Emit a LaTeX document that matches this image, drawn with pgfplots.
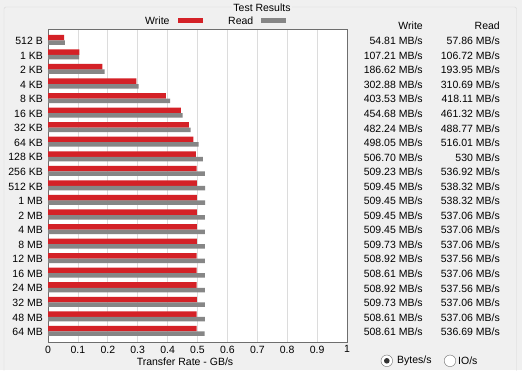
\documentclass[border=0pt]{standalone}
\usepackage{pgfplots}
\pgfplotsset{compat=1.18}
\usepackage{pgfplotstable}
\usepackage{fontspec}
\setmainfont{Liberation Sans}
\definecolor{bg}{HTML}{F0F0F0}
\definecolor{wred}{HTML}{D42127}
\definecolor{rgray}{HTML}{868686}
\definecolor{gridc}{HTML}{DCDCDC}
\definecolor{framec}{HTML}{D6D6D6}
\definecolor{axc}{HTML}{6E6E6E}

\pgfplotstableread[col sep=comma]{
idx,label,w,r
0,512 B,54.81,57.86
1,1 KB,107.21,106.72
2,2 KB,186.62,193.95
3,4 KB,302.88,310.69
4,8 KB,403.53,418.11
5,16 KB,454.68,461.32
6,32 KB,482.24,488.77
7,64 KB,498.05,516.01
8,128 KB,506.70,530
9,256 KB,509.23,536.92
10,512 KB,509.45,538.32
11,1 MB,509.45,538.32
12,2 MB,509.45,537.06
13,4 MB,509.45,537.06
14,8 MB,509.73,537.06
15,12 MB,508.92,537.56
16,16 MB,508.61,537.06
17,24 MB,508.92,537.56
18,32 MB,509.73,537.06
19,48 MB,508.61,537.06
20,64 MB,508.61,536.69
}\data

\begin{document}
\fontsize{10.5}{12.6}\selectfont
\begin{tikzpicture}
\useasboundingbox (0,0) rectangle (522pt,-370pt);
\fill[bg] (0,0) rectangle (522pt,-370pt);
\begin{scope}[x=1pt,y=-1pt]
\draw[framec, rounded corners=2pt] (4,7) rectangle (516.5,385);
\node[fill=bg, inner sep=1.5pt] at (262,7.5) {Test Results};
\node[anchor=west, inner sep=0pt] at (145,20.5) {Write};
\fill[wred] (178,18.2) rectangle (203,23.2);
\node[anchor=west, inner sep=0pt] at (228,20.5) {Read};
\fill[rgray] (261,18.2) rectangle (286,23.2);
\node[anchor=east, inner sep=0pt] at (423,26) {Write};
\node[anchor=east, inner sep=0pt] at (500,26) {Read};
\node at (185,362) {Transfer Rate - GB/s};
\draw[axc, fill=white] (386.8,360.8) circle (5.8);
\fill[black!80] (386.8,360.8) circle (2.8);
\node[anchor=west, inner sep=0pt] at (397,360.8) {Bytes/s};
\draw[axc, fill=white] (450,360.8) circle (5.8);
\node[anchor=west, inner sep=0pt] at (458,360.8) {IO/s};
\end{scope}
\begin{axis}[
  at={(48pt,-29pt)}, anchor=north west,
  scale only axis, width=299pt, height=313pt,
  xmin=0, xmax=1024, ymin=-0.82, ymax=20.69, y dir=reverse,
  xtick={0,102.4,204.8,307.2,409.6,512,614.4,716.8,819.2,921.6,1024},
  xticklabels={0,0.1,0.2,0.3,0.4,0.5,0.6,0.7,0.8,0.9,1},
  ytick={0,...,20},
  yticklabels from table={\data}{label},
  major tick length=0pt,
  xmajorgrids, grid style={gridc, line width=0.8pt},
  axis line style={axc, line width=0.8pt},
  axis background/.style={fill=white},
  clip=false,
  yticklabel style={anchor=east, xshift=-1.5pt},
  /pgf/number format/assume math mode=true,
]
\addplot[xbar, bar width=5.6pt, bar shift=3.3pt, fill=wred, draw=none] table[x=w, y=idx]{\data};
\addplot[xbar, bar width=4.5pt, bar shift=-1.7pt, fill=rgray, draw=none] table[x=r, y=idx]{\data};
\addplot[draw=none, point meta=explicit symbolic,
  nodes near coords={\pgfplotspointmeta\ MB/s},
  every node near coord/.append style={anchor=east, inner sep=0pt}]
  table[x expr=1284, y=idx, meta=w]{\data};
\addplot[draw=none, point meta=explicit symbolic,
  nodes near coords={\pgfplotspointmeta\ MB/s},
  every node near coord/.append style={anchor=east, inner sep=0pt}]
  table[x expr=1548, y=idx, meta=r]{\data};
\end{axis}
\end{tikzpicture}
\end{document}
